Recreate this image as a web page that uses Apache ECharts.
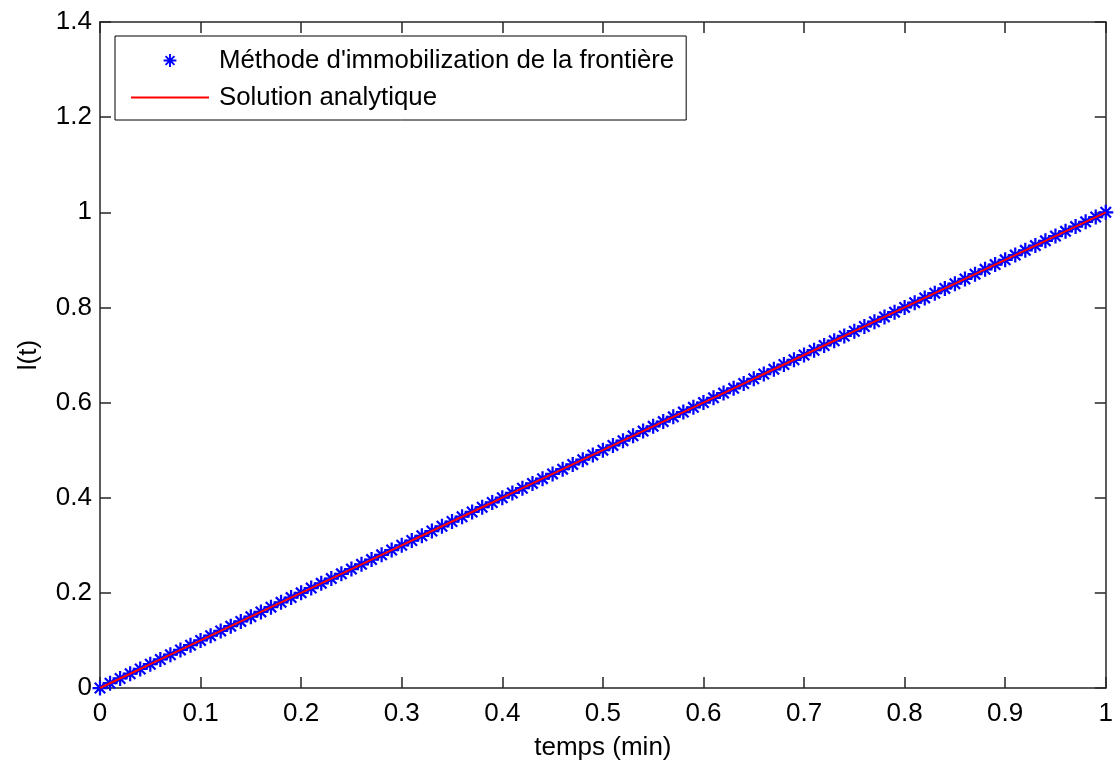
<!DOCTYPE html>
<html>
<head>
<meta charset="utf-8">
<script src="https://cdn.jsdelivr.net/npm/echarts@6/dist/echarts.min.js"></script>
<style>
html, body { margin: 0; padding: 0; background: #fff; }
#main { width: 1116px; height: 766px; }
</style>
</head>
<body>
<div id="main"></div>
<script>
// temps (min)
var temps = [
	0, 0.01, 0.02, 0.03, 0.04, 0.05, 0.06, 0.07, 0.08, 0.09,
	0.1, 0.11, 0.12, 0.13, 0.14, 0.15, 0.16, 0.17, 0.18, 0.19,
	0.2, 0.21, 0.22, 0.23, 0.24, 0.25, 0.26, 0.27, 0.28, 0.29,
	0.3, 0.31, 0.32, 0.33, 0.34, 0.35, 0.36, 0.37, 0.38, 0.39,
	0.4, 0.41, 0.42, 0.43, 0.44, 0.45, 0.46, 0.47, 0.48, 0.49,
	0.5, 0.51, 0.52, 0.53, 0.54, 0.55, 0.56, 0.57, 0.58, 0.59,
	0.6, 0.61, 0.62, 0.63, 0.64, 0.65, 0.66, 0.67, 0.68, 0.69,
	0.7, 0.71, 0.72, 0.73, 0.74, 0.75, 0.76, 0.77, 0.78, 0.79,
	0.8, 0.81, 0.82, 0.83, 0.84, 0.85, 0.86, 0.87, 0.88, 0.89,
	0.9, 0.91, 0.92, 0.93, 0.94, 0.95, 0.96, 0.97, 0.98, 0.99,
	1
];
// l(t), méthode d'immobilisation
var lNum = [
	0, 0.01, 0.02, 0.03, 0.04, 0.05, 0.06, 0.07, 0.08, 0.09,
	0.1, 0.11, 0.12, 0.13, 0.14, 0.15, 0.16, 0.17, 0.18, 0.19,
	0.2, 0.21, 0.22, 0.23, 0.24, 0.25, 0.26, 0.27, 0.28, 0.29,
	0.3, 0.31, 0.32, 0.33, 0.34, 0.35, 0.36, 0.37, 0.38, 0.39,
	0.4, 0.41, 0.42, 0.43, 0.44, 0.45, 0.46, 0.47, 0.48, 0.49,
	0.5, 0.51, 0.52, 0.53, 0.54, 0.55, 0.56, 0.57, 0.58, 0.59,
	0.6, 0.61, 0.62, 0.63, 0.64, 0.65, 0.66, 0.67, 0.68, 0.69,
	0.7, 0.71, 0.72, 0.73, 0.74, 0.75, 0.76, 0.77, 0.78, 0.79,
	0.8, 0.81, 0.82, 0.83, 0.84, 0.85, 0.86, 0.87, 0.88, 0.89,
	0.9, 0.91, 0.92, 0.93, 0.94, 0.95, 0.96, 0.97, 0.98, 0.99,
	1
];
// l(t), solution analytique
var lAna = [
	0, 0.01, 0.02, 0.03, 0.04, 0.05, 0.06, 0.07, 0.08, 0.09,
	0.1, 0.11, 0.12, 0.13, 0.14, 0.15, 0.16, 0.17, 0.18, 0.19,
	0.2, 0.21, 0.22, 0.23, 0.24, 0.25, 0.26, 0.27, 0.28, 0.29,
	0.3, 0.31, 0.32, 0.33, 0.34, 0.35, 0.36, 0.37, 0.38, 0.39,
	0.4, 0.41, 0.42, 0.43, 0.44, 0.45, 0.46, 0.47, 0.48, 0.49,
	0.5, 0.51, 0.52, 0.53, 0.54, 0.55, 0.56, 0.57, 0.58, 0.59,
	0.6, 0.61, 0.62, 0.63, 0.64, 0.65, 0.66, 0.67, 0.68, 0.69,
	0.7, 0.71, 0.72, 0.73, 0.74, 0.75, 0.76, 0.77, 0.78, 0.79,
	0.8, 0.81, 0.82, 0.83, 0.84, 0.85, 0.86, 0.87, 0.88, 0.89,
	0.9, 0.91, 0.92, 0.93, 0.94, 0.95, 0.96, 0.97, 0.98, 0.99,
	1
];
var seriesNames = ["Méthode d'immobilization de la frontière", 'Solution analytique'];

function pairs(xs, ys) {
	var out = [];
	for (var i = 0; i < xs.length; i++) out.push([xs[i], ys[i]]);
	return out;
}

// asterisk marker like matlab '*'
var starPath = 'path://M8.5 0L11.5 0L11.5 20L8.5 20Z M0 8.5L20 8.5L20 11.5L0 11.5Z ' +
	'M2 4.1L4.1 2L18 15.9L15.9 18Z M15.9 2L18 4.1L4.1 18L2 15.9Z';
// plain red segment for the legend
var lineIcon = 'path://M0 0L78 0L78 2L0 2Z';

var font = 'Liberation Sans, Arial, sans-serif';
var axisCol = '#262626';
var fs = 26;

var myChart = echarts.init(document.getElementById('main'));
var option = {
	backgroundColor: '#fff',
	animation: false,
	textStyle: { fontFamily: font },
	grid: { left: 100, right: 10, top: 22, bottom: 76, containLabel: false },
	legend: {
		orient: 'vertical',
		left: 115,
		top: 36,
		padding: [11, 12, 9, 15],
		itemGap: 10,
		itemWidth: 78,
		itemHeight: 16,
		backgroundColor: '#fff',
		borderColor: '#000',
		borderWidth: 1,
		borderRadius: 0,
		textStyle: { fontSize: 25.8, lineHeight: 27, color: '#000', fontFamily: font, padding: [0, 0, 0, 5] },
		data: [
			{ name: seriesNames[0] },
			{ name: seriesNames[1], icon: lineIcon }
		]
	},
	xAxis: [{
		type: 'value',
		min: 0,
		max: 1,
		interval: 0.1,
		name: 'temps (min)',
		nameLocation: 'middle',
		nameGap: 47,
		nameTextStyle: { fontSize: fs, color: '#000' },
		axisLine: { onZero: false, lineStyle: { color: axisCol, width: 1.5 } },
		axisTick: { inside: true, length: 11, lineStyle: { color: axisCol, width: 1.5 } },
		axisLabel: { fontSize: fs, color: '#000', margin: 13 },
		splitLine: { show: false }
	}, {
		type: 'value',
		position: 'top',
		min: 0,
		max: 1,
		interval: 0.1,
		axisLine: { onZero: false, lineStyle: { color: axisCol, width: 1.5 } },
		axisTick: { inside: true, length: 11, lineStyle: { color: axisCol, width: 1.5 } },
		axisLabel: { show: false },
		splitLine: { show: false }
	}],
	yAxis: [{
		type: 'value',
		min: 0,
		max: 1.4,
		interval: 0.2,
		name: 'l(t)',
		nameLocation: 'middle',
		nameGap: 58,
		nameTextStyle: { fontSize: fs, color: '#000' },
		axisLine: { onZero: false, lineStyle: { color: axisCol, width: 1.5 } },
		axisTick: { inside: true, length: 11, lineStyle: { color: axisCol, width: 1.5 } },
		axisLabel: { fontSize: fs, color: '#000', margin: 8 },
		splitLine: { show: false }
	}, {
		type: 'value',
		position: 'right',
		min: 0,
		max: 1.4,
		interval: 0.2,
		axisLine: { onZero: false, lineStyle: { color: axisCol, width: 1.5 } },
		axisTick: { inside: true, length: 11, lineStyle: { color: axisCol, width: 1.5 } },
		axisLabel: { show: false },
		splitLine: { show: false }
	}],
	series: [{
		name: seriesNames[0],
		type: 'line',
		data: pairs(temps, lNum),
		symbol: starPath,
		symbolSize: 15,
		showSymbol: true,
		showAllSymbol: true,
		itemStyle: { color: '#0000ff' },
		lineStyle: { opacity: 0, width: 0.01 },
		emphasis: { disabled: true },
		z: 2
	}, {
		name: seriesNames[1],
		type: 'line',
		data: pairs(temps, lAna),
		symbol: 'none',
		showSymbol: false,
		itemStyle: { color: '#ff0000' },
		lineStyle: { color: '#ff0000', width: 2 },
		emphasis: { disabled: true },
		z: 3
	}]
};
myChart.setOption(option);
</script>
</body>
</html>
